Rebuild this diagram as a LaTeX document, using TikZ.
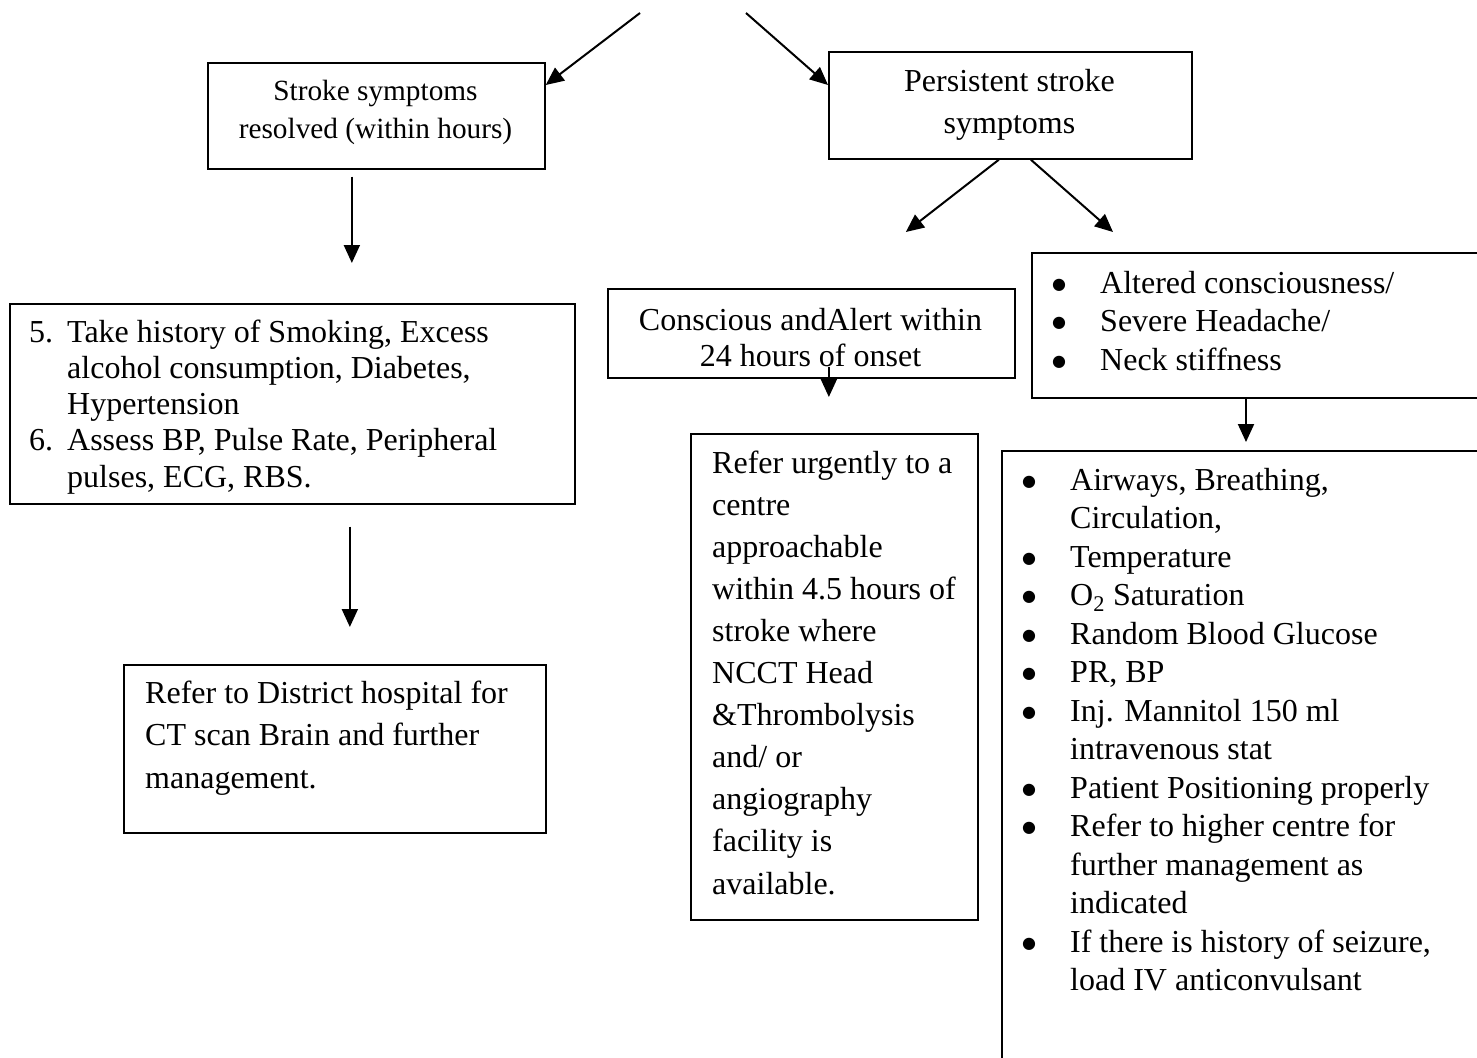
\documentclass[tikz,border=0pt]{standalone}
\usepackage{fontspec}
\setmainfont{Liberation Serif}
\newfontfamily\dvs{DejaVu Sans}
\usetikzlibrary{arrows.meta}
\newcommand\bul{\makebox[49pt][l]{\hspace{1pt}\raisebox{4pt}{\dvs\fontsize{16}{16}\selectfont ●}}}
\newcommand\nob{\makebox[49pt][l]{}}
\begin{document}
\begin{tikzpicture}[x=1pt,y=-1pt,
  box/.style={draw, line width=1.7pt, rectangle, inner sep=0pt, anchor=north west},
  arr/.style={line width=2pt, -{Triangle[length=18pt,width=16pt]}},
  txt/.style={inner sep=0pt, anchor=base west},
  ctxt/.style={inner sep=0pt, anchor=base}]
\useasboundingbox (0,0) rectangle (1477,1057);
\fill[white] (0,0) rectangle (1477,1057);
\clip (0,0) rectangle (1477,1057);

% boxes
\node[box, minimum width=337pt, minimum height=106pt] (A) at (207,62) {};
\node[box, minimum width=363pt, minimum height=107pt] (B) at (828,51) {};
\node[box, minimum width=565pt, minimum height=200pt] (C) at (9,303) {};
\node[box, minimum width=422pt, minimum height=168pt] (D) at (123,664) {};
\node[box, minimum width=407pt, minimum height=89pt]  (E) at (607,288) {};
\node[box, minimum width=287pt, minimum height=486pt] (F) at (690,433) {};
\node[box, minimum width=470pt, minimum height=145pt] (G) at (1031,252) {};
\node[box, minimum width=500pt, minimum height=630pt] (H) at (1001,450) {};

% texts
\node[ctxt, font=\fontsize{29.3}{38}\selectfont] (tA) at (375.5,100)
  {\begin{tabular}[t]{@{}c@{}}Stroke symptoms\\resolved (within hours)\end{tabular}};
\node[ctxt, font=\fontsize{32}{42}\selectfont] (tB) at (1009.5,92)
  {\begin{tabular}[t]{@{}c@{}}Persistent stroke\\symptoms\end{tabular}};
\node[ctxt, font=\fontsize{32}{36}\selectfont] (tE) at (810.5,330)
  {\begin{tabular}[t]{@{}c@{}}Conscious andAlert within\\24 hours of onset\end{tabular}};
\node[txt, font=\fontsize{32}{36.3}\selectfont] (tC) at (29,342)
  {\begin{tabular}[t]{@{}p{38pt}@{}l@{}}
  5. & Take history of Smoking, Excess\\
     & alcohol consumption, Diabetes,\\
     & Hypertension\\
  6. & Assess BP, Pulse Rate, Peripheral\\
     & pulses, ECG, RBS.
  \end{tabular}};
\node[txt, font=\fontsize{32}{42.5}\selectfont] (tD) at (145,703)
  {\begin{tabular}[t]{@{}l@{}}
  Refer to District hospital for\\
  CT scan Brain and further\\
  management.
  \end{tabular}};
\node[txt, font=\fontsize{32}{42.1}\selectfont] (tF) at (712,473)
  {\begin{tabular}[t]{@{}l@{}}
  Refer urgently to a\\
  centre\\
  approachable\\
  within 4.5 hours of\\
  stroke where\\
  NCCT Head\\
  \&Thrombolysis\\
  and/ or\\
  angiography\\
  facility is\\
  available.
  \end{tabular}};
\node[txt, font=\fontsize{32}{38.7}\selectfont] (tG) at (1051,293)
  {\begin{tabular}[t]{@{}l@{}l@{}}
  \bul & Altered consciousness/\\
  \bul & Severe Headache/\\
  \bul & Neck stiffness
  \end{tabular}};
\node[txt, font=\fontsize{32}{38.5}\selectfont] (tH) at (1021,490)
  {\begin{tabular}[t]{@{}l@{}l@{}}
  \bul & Airways, Breathing,\\
  \nob & Circulation,\\
  \bul & Temperature\\
  \bul & O\textsubscript{2} Saturation\\
  \bul & Random Blood Glucose\\
  \bul & PR, BP\\
  \bul & Inj. Mannitol 150 ml\\
  \nob & intravenous stat\\
  \bul & Patient Positioning properly\\
  \bul & Refer to higher centre for\\
  \nob & further management as\\
  \nob & indicated\\
  \bul & If there is history of seizure,\\
  \nob & load IV anticonvulsant
  \end{tabular}};

% connectors
\coordinate (top1) at (640,13);
\coordinate (top2) at (746,13);
\draw[arr] (top1) -- ([yshift=-23pt]A.north east);
\draw[arr] (top2) -- ([yshift=-34pt]B.north west);
\draw[arr] ([xshift=-24.5pt,yshift=-7pt]A.south) -- ([xshift=59.5pt,yshift=40pt]C.north);
\draw[arr] ([xshift=57.5pt,yshift=-22pt]C.south) -- ([xshift=15pt,yshift=37pt]D.north);
\draw[arr] ([xshift=-11.5pt]B.south) -- ([xshift=94.5pt,yshift=56pt]E.north);
\draw[arr] ([xshift=20.5pt]B.south) -- ([xshift=82pt,yshift=20pt]G.north west);
\draw[arr] ([xshift=17.5pt,yshift=12pt]E.south) -- ([xshift=-5.5pt,yshift=36pt]F.north);
\draw[arr] ([xshift=215pt]G.south west) -- ([xshift=245pt,yshift=8pt]H.north west);
\end{tikzpicture}
\end{document}
